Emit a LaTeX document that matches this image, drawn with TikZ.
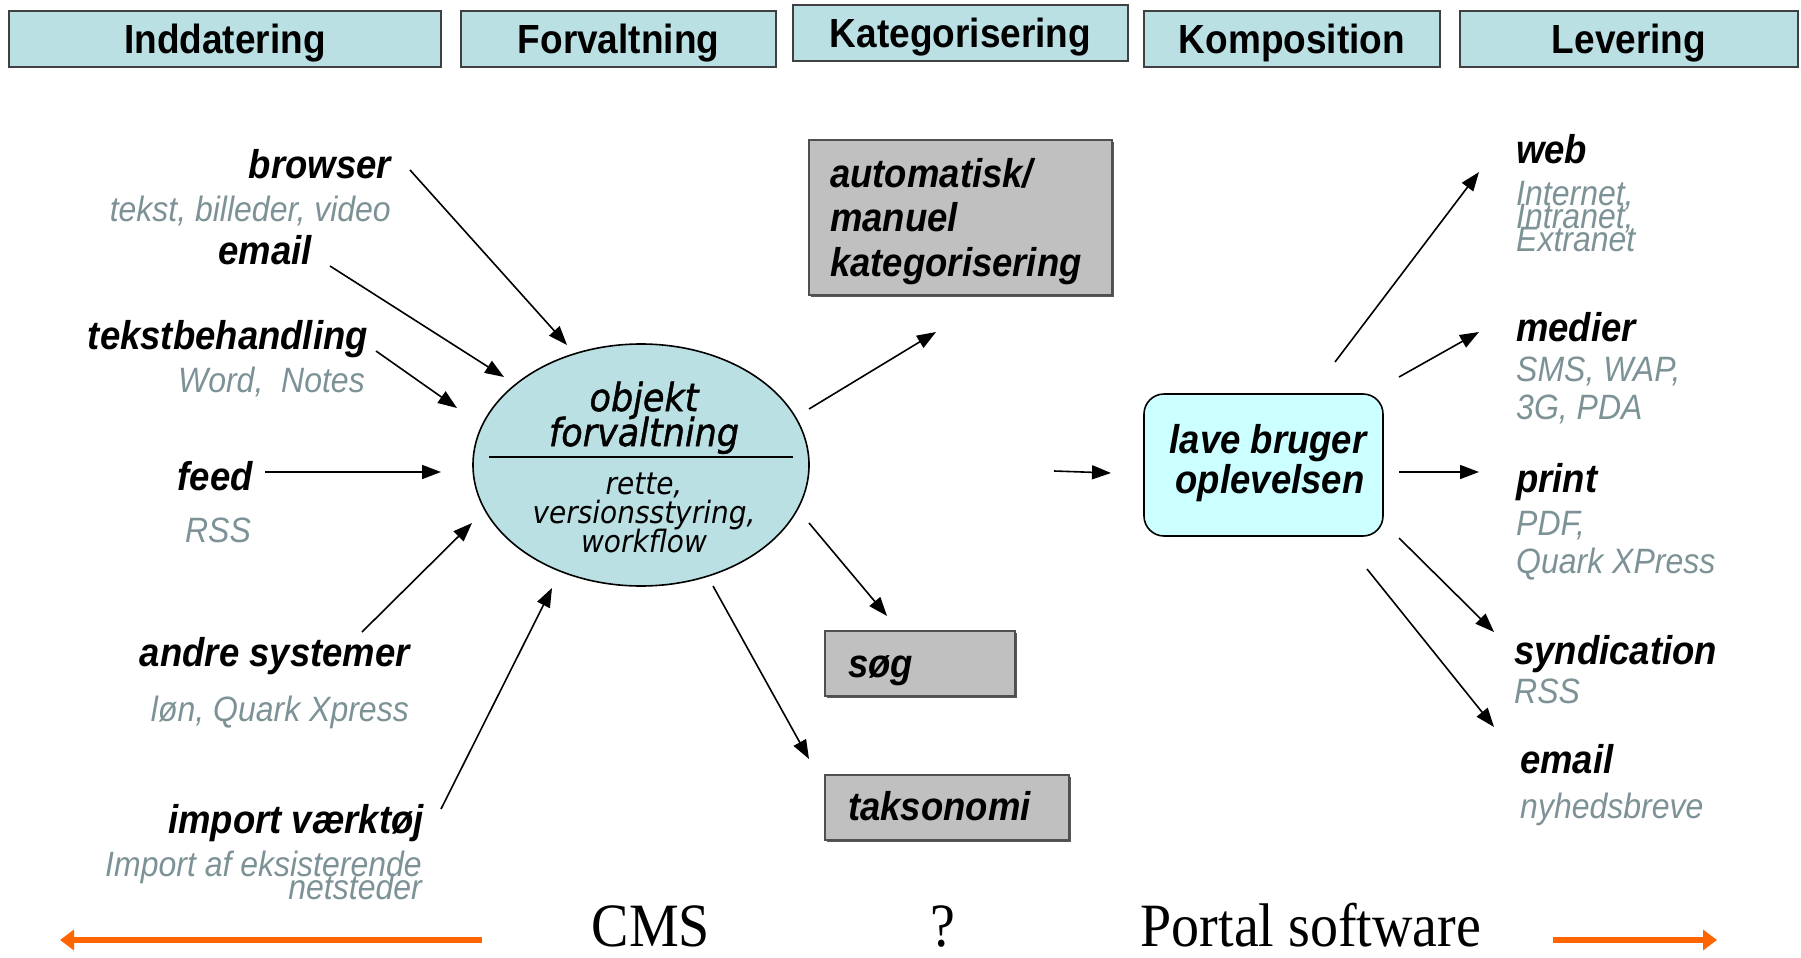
\documentclass[tikz,border=0pt]{standalone}
\usepackage{fontspec}
\setmainfont{Liberation Sans}
\newfontfamily\timesface{Liberation Serif}
\newfontfamily\ovalface{DejaVu Sans}
\newfontfamily\ovalheavy{DejaVu Sans}[FakeBold=1.3]
\usetikzlibrary{arrows.meta,shapes.geometric}
\definecolor{hdrfill}{RGB}{187,224,227}
\definecolor{hdrline}{RGB}{64,64,64}
\definecolor{ovalfill}{RGB}{187,224,227}
\definecolor{boxgray}{RGB}{192,192,192}
\definecolor{boxline}{RGB}{80,80,80}
\definecolor{cyanfill}{RGB}{204,255,255}
\definecolor{subgray}{RGB}{125,146,150}
\definecolor{flow}{RGB}{255,102,0}

\begin{document}
\begin{tikzpicture}[x=1pt,y=1pt,
  hdr/.style={draw=hdrline, line width=1.6pt, fill=hdrfill, inner sep=0pt,
    minimum height=51pt, yscale=1.1, text height=26.5pt, text depth=0pt,
    font=\fontsize{37}{40}\selectfont\bfseries},
  lbl/.style={inner sep=0pt, yscale=1.1,
    font=\fontsize{36.5}{40}\selectfont\bfseries\itshape},
  sub/.style={inner sep=0pt, yscale=1.1, text=subgray,
    font=\fontsize{32}{36}\selectfont\itshape},
  ovaltitle/.style={inner sep=0pt, yscale=1.1, anchor=base,
    font=\ovalheavy\itshape\fontsize{35}{40}\selectfont},
  ovaltxt/.style={inner sep=0pt, yscale=1.1, anchor=base,
    font=\ovalface\itshape\fontsize{28}{32}\selectfont},
  graybox/.style={draw=boxline, line width=1.6pt, fill=boxgray, inner sep=0pt},
  shadowbox/.style={fill=black!65, draw=none, inner sep=0pt},
  arr/.style={-{Triangle[length=19pt,width=14pt]}, line width=1.6pt},
  flowarr/.style={-{Triangle[length=14pt,width=20pt]}, line width=6pt, draw=flow},
  bigtxt/.style={inner sep=0pt, yscale=1.1, anchor=base,
    font=\timesface\fontsize{56}{60}\selectfont}
]
\useasboundingbox (0,0) rectangle (1801,-958);

% ---------- phase headers ----------
\node[hdr, minimum width=432pt] (hInd) at (225,-39)    {Inddatering};
\node[hdr, minimum width=315pt] (hFor) at (618.5,-39)  {Forvaltning};
\node[hdr, minimum width=335pt] (hKat) at (960.5,-33)  {Kategorisering};
\node[hdr, minimum width=296pt] (hKom) at (1292,-39)   {Komposition};
\node[hdr, minimum width=338pt] (hLev) at (1629,-39)   {Levering};

% ---------- central ellipse ----------
\node[ellipse, draw=black, line width=1.6pt, fill=ovalfill,
      minimum width=336pt, minimum height=242pt] (oval) at (641,-465) {};
\coordinate (divL) at (489,-457);
\coordinate (divR) at (793,-457);
\draw[line width=1.6pt] (divL) -- (divR);
\node[ovaltitle] (ot1) at (644,-411) {objekt};
\node[ovaltitle] (ot2) at (644,-446) {forvaltning};
\node[ovaltxt] (os1) at (644,-494) {rette,};
\node[ovaltxt] (os2) at (644,-523) {versionsstyring,};
\node[ovaltxt] (os3) at (644,-552) {workflow};

% ---------- input sources ----------
\node[lbl, anchor=base east] (browser) at (391,-178) {browser};
\node[sub, anchor=base east] (browserS) at (391,-221) {tekst, billeder, video};
\node[lbl, anchor=base east] (emailIn) at (312,-264) {email};
\node[lbl, anchor=base east] (tekst) at (368,-349) {tekstbehandling};
\node[sub, anchor=base east] (tekstS) at (365,-392) {Word,\ \ Notes};
\node[lbl, anchor=base east] (feed) at (253,-490) {feed};
\node[sub, anchor=base] (feedS) at (218,-542) {RSS};
\node[lbl, anchor=base east] (andre) at (410,-666) {andre systemer};
\node[sub, anchor=base east] (andreS) at (409,-721) {løn, Quark Xpress};
\node[lbl, anchor=base east] (import) at (424,-833) {import værktøj};
\node[sub, anchor=base east] (importS1) at (422,-876) {Import af eksisterende};
\node[sub, anchor=base east] (importS2) at (422,-899) {netsteder};

\coordinate (browserA) at (410,-170);  \coordinate (browserB) at (567,-345);
\coordinate (emailA)   at (330,-266);  \coordinate (emailB)   at (504,-377);
\coordinate (tekstA)   at (376,-351);  \coordinate (tekstB)   at (457,-408);
\coordinate (feedA)    at (265,-472);  \coordinate (feedB)    at (441,-472);
\coordinate (andreA)   at (362,-632);  \coordinate (andreB)   at (472,-523);
\coordinate (importA)  at (441,-809);  \coordinate (importB)  at (552,-588);
\draw[arr] (browserA) -- (browserB);
\draw[arr] (emailA) -- (emailB);
\draw[arr] (tekstA) -- (tekstB);
\draw[arr] (feedA) -- (feedB);
\draw[arr] (andreA) -- (andreB);
\draw[arr] (importA) -- (importB);

% ---------- categorisation boxes ----------
\node[shadowbox, minimum width=303pt, minimum height=155pt] at (962.5,-219.5) {};
\node[graybox, minimum width=303pt, minimum height=155pt] (auto) at (960.5,-217.5) {};
\node[lbl, anchor=base west] (auto1) at (830,-187) {automatisk/};
\node[lbl, anchor=base west] (auto2) at (830,-231) {manuel};
\node[lbl, anchor=base west] (auto3) at (830,-276) {kategorisering};

\node[shadowbox, minimum width=190pt, minimum height=65pt] at (922,-665.5) {};
\node[graybox, minimum width=190pt, minimum height=65pt] (soeg) at (920,-663.5) {};
\node[lbl, anchor=base west] (soegT) at (848,-677) {søg};

\node[shadowbox, minimum width=244pt, minimum height=65pt] at (949,-809.5) {};
\node[graybox, minimum width=244pt, minimum height=65pt] (takso) at (947,-807.5) {};
\node[lbl, anchor=base west] (taksoT) at (848,-820) {taksonomi};

\coordinate (katA)  at (809,-409);   \coordinate (katB)  at (936,-332);
\coordinate (soegA) at (809,-523);   \coordinate (soegB) at (887,-616);
\coordinate (takA)  at (713,-586);   \coordinate (takB)  at (809,-759);
\coordinate (midA)  at (1054,-471);  \coordinate (midB)  at (1111,-473);
\draw[arr] (katA) -- (katB);
\draw[arr] (soegA) -- (soegB);
\draw[arr] (takA) -- (takB);
\draw[arr] (midA) -- (midB);

% ---------- composition ----------
\node[draw=black, line width=1.6pt, fill=cyanfill, rounded corners=20pt,
      minimum width=239pt, minimum height=142pt] (exp) at (1263.5,-465) {};
\node[lbl, anchor=base] (exp1) at (1268,-453) {lave bruger};
\node[lbl, anchor=base] (exp2) at (1270,-493) {oplevelsen};

% ---------- delivery channels ----------
\node[lbl, anchor=base west] (web) at (1516,-163) {web};
\node[sub, anchor=base west] (webS1) at (1516,-205) {Internet,};
\node[sub, anchor=base west] (webS2) at (1516,-228) {Intranet,};
\node[sub, anchor=base west] (webS3) at (1516,-251) {Extranet};
\node[lbl, anchor=base west] (medier) at (1516,-341) {medier};
\node[sub, anchor=base west] (medierS1) at (1516,-381) {SMS, WAP,};
\node[sub, anchor=base west] (medierS2) at (1516,-419) {3G, PDA};
\node[lbl, anchor=base west] (print) at (1516,-492) {print};
\node[sub, anchor=base west] (printS1) at (1516,-535) {PDF,};
\node[sub, anchor=base west] (printS2) at (1516,-573) {Quark XPress};
\node[lbl, anchor=base west] (synd) at (1514,-664) {syndication};
\node[sub, anchor=base west] (syndS) at (1514,-703) {RSS};
\node[lbl, anchor=base west] (emailOut) at (1520,-773) {email};
\node[sub, anchor=base west] (emailOutS) at (1520,-818) {nyhedsbreve};

\coordinate (webA)    at (1335,-362);  \coordinate (webB)    at (1479,-172);
\coordinate (medierA) at (1399,-377);  \coordinate (medierB) at (1479,-332);
\coordinate (printA)  at (1399,-472);  \coordinate (printB)  at (1479,-472);
\coordinate (syndA)   at (1399,-538);  \coordinate (syndB)   at (1494,-632);
\coordinate (mailA)   at (1367,-569);  \coordinate (mailB)   at (1494,-727);
\draw[arr] (webA) -- (webB);
\draw[arr] (medierA) -- (medierB);
\draw[arr] (printA) -- (printB);
\draw[arr] (syndA) -- (syndB);
\draw[arr] (mailA) -- (mailB);

% ---------- bottom scale ----------
\node[bigtxt] (cms) at (651,-946) {CMS};
\node[bigtxt] (qm) at (943,-946) {?};
\node[bigtxt] (portal) at (1311,-946) {Portal software};
\coordinate (cmsA) at (482,-940);   \coordinate (cmsB) at (60,-940);
\coordinate (porA) at (1553,-940);  \coordinate (porB) at (1717,-940);
\draw[flowarr] (cmsA) -- (cmsB);
\draw[flowarr] (porA) -- (porB);
\end{tikzpicture}
\end{document}
